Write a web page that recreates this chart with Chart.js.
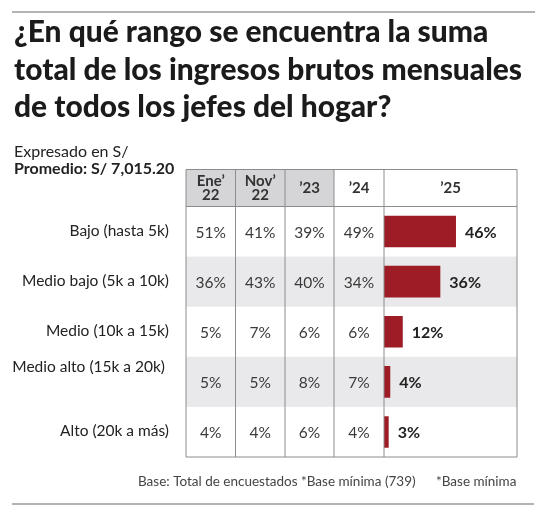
<!DOCTYPE html>
<html>
<head>
<meta charset="utf-8">
<script src="https://cdn.jsdelivr.net/npm/chart.js@4.4.1/dist/chart.umd.min.js"></script>
<style>
  body { margin: 0; background: #fff; }
  canvas { display: block; }
</style>
</head>
<body>
<canvas id="grafico" width="547" height="517"></canvas>
<script>
// Datos
var tituloLineas = ['¿En qué rango se encuentra la suma', 'total de los ingresos brutos mensuales', 'de todos los jefes del hogar?'];
var rangos = ['Bajo (hasta 5k)', 'Medio bajo (5k a 10k)', 'Medio (10k a 15k)', 'Medio alto (15k a 20k)', 'Alto (20k a más)'];
var periodos = [['Ene’', '22'], ['Nov’', '22'], ['’23'], ['’24'], ['’25']];
var ene22 = [51, 36, 5, 5, 4];
var nov22 = [41, 43, 7, 5, 4];
var anio23 = [39, 40, 6, 8, 6];
var anio24 = [49, 34, 6, 7, 4];
var anio25 = [46, 36, 12, 4, 3];
var nota1 = 'Base: Total de encuestados *Base mínima (739)';
var nota2 = '*Base mínima';

var columnasTabla = [ene22, nov22, anio23, anio24];
var bordes = [186, 235.5, 285, 334, 384, 517]; // bordes de columnas
var yCabecera = 169.5;
var fuente = 'Lato, "Noto Sans", sans-serif';

var tablaPlugin = {
	id: 'tabla',
	beforeDraw: function(chart) {
		var ctx = chart.ctx;
		var area = chart.chartArea;
		var ejeY = chart.scales.y;
		var alto = ejeY.getPixelForValue(1) - ejeY.getPixelForValue(0);
		ctx.save();
		ctx.fillStyle = '#fff';
		ctx.fillRect(0, 0, chart.width, chart.height);

		// reglas superior e inferior
		ctx.strokeStyle = '#9a9a9a';
		ctx.lineWidth = 1.5;
		ctx.beginPath();
		ctx.moveTo(12, 12); ctx.lineTo(535, 12);
		ctx.moveTo(12, 504); ctx.lineTo(534, 504);
		ctx.stroke();

		// titulo
		ctx.fillStyle = '#1b1b1b';
		ctx.font = '900 31px ' + fuente;
		ctx.textBaseline = 'alphabetic';
		var sx = 508 / ctx.measureText(tituloLineas[1]).width;
		for (var t = 0; t < tituloLineas.length; t++) {
			ctx.save();
			ctx.translate(14, 42 + t * 37.5);
			ctx.scale(sx, 1);
			ctx.fillText(tituloLineas[t], 0, 0);
			ctx.restore();
		}

		ctx.font = '16px ' + fuente;
		ctx.fillStyle = '#222';
		ctx.fillText('Expresado en S/', 14, 157);
		ctx.font = 'bold 16px ' + fuente;
		ctx.fillText('Promedio: S/ 7,015.20', 14, 174);

		// fondos
		ctx.fillStyle = '#d5d5d7';
		ctx.fillRect(bordes[0], yCabecera, bordes[3] - bordes[0], area.top - yCabecera);
		ctx.fillStyle = '#e9e9eb';
		for (var i = 0; i < rangos.length; i++) {
			if (i % 2 == 1) {
				var c = ejeY.getPixelForValue(i);
				ctx.fillRect(bordes[0], c - alto / 2, bordes[5] - bordes[0], alto);
			}
		}
		ctx.restore();
	},
	afterDraw: function(chart) {
		var ctx = chart.ctx;
		var area = chart.chartArea;
		var ejeY = chart.scales.y;
		ctx.save();

		// lineas de la tabla
		ctx.strokeStyle = '#8c8c8c';
		ctx.lineWidth = 1;
		ctx.beginPath();
		for (var k = 0; k < bordes.length; k++) {
			ctx.moveTo(bordes[k], yCabecera);
			ctx.lineTo(bordes[k], area.bottom);
		}
		ctx.moveTo(bordes[0], yCabecera); ctx.lineTo(bordes[5], yCabecera);
		ctx.moveTo(bordes[0], area.top); ctx.lineTo(bordes[5], area.top);
		ctx.moveTo(bordes[0], area.bottom); ctx.lineTo(bordes[5], area.bottom);
		ctx.stroke();

		// cabecera
		ctx.textAlign = 'center';
		ctx.textBaseline = 'middle';
		ctx.fillStyle = '#333';
		ctx.font = 'bold 15px ' + fuente;
		var medioCab = (yCabecera + area.top) / 2;
		for (var p = 0; p < periodos.length; p++) {
			var cx = (bordes[p] + bordes[p + 1]) / 2;
			if (periodos[p].length == 2) {
				ctx.fillText(periodos[p][0], cx, medioCab - 7);
				ctx.fillText(periodos[p][1], cx, medioCab + 7);
			} else {
				ctx.fillText(periodos[p][0], cx, medioCab);
			}
		}

		// etiquetas de filas y valores
		for (var i = 0; i < rangos.length; i++) {
			var y = ejeY.getPixelForValue(i);
			ctx.font = '15.5px ' + fuente;
			ctx.textAlign = 'right';
			ctx.fillStyle = '#222';
			if (i == 3)
				ctx.fillText(rangos[i], 165, y - 15);
			else
				ctx.fillText(rangos[i], 169, y - 1);
			ctx.font = '15.5px ' + fuente;
			ctx.textAlign = 'center';
			ctx.fillStyle = '#3a3a3a';
			for (var j = 0; j < columnasTabla.length; j++) {
				ctx.fillText(columnasTabla[j][i] + '%', (bordes[j] + bordes[j + 1]) / 2, y + 1);
			}
		}

		// valores de las barras
		var meta = chart.getDatasetMeta(0);
		ctx.textAlign = 'left';
		ctx.fillStyle = '#222';
		ctx.font = 'bold 16px ' + fuente;
		meta.data.forEach(function(barra, i) {
			ctx.fillText(anio25[i] + '%', barra.x + 9, barra.y + 1);
		});

		// notas
		ctx.font = '13.5px ' + fuente;
		ctx.fillStyle = '#444';
		ctx.textBaseline = 'alphabetic';
		ctx.fillText(nota1, 138, 486);
		ctx.fillText(nota2, 436, 486);
		ctx.restore();
	}
};

var config = {
	type: 'bar',
	data: {
		labels: rangos,
		datasets: [{
			label: '’25',
			data: anio25,
			backgroundColor: '#9d1c26',
			borderWidth: 0,
			barPercentage: 0.63,
			categoryPercentage: 1
		}]
	},
	options: {
		indexAxis: 'y',
		responsive: false,
		animation: false,
		devicePixelRatio: 1,
		layout: { padding: { left: 384, right: 30, top: 206.5, bottom: 60 } },
		plugins: { legend: { display: false }, tooltip: { enabled: false } },
		scales: {
			x: { display: false, min: 0, max: 85 },
			y: { display: false }
		}
	},
	plugins: [tablaPlugin]
};

new Chart(document.getElementById('grafico'), config);
</script>
</body>
</html>
